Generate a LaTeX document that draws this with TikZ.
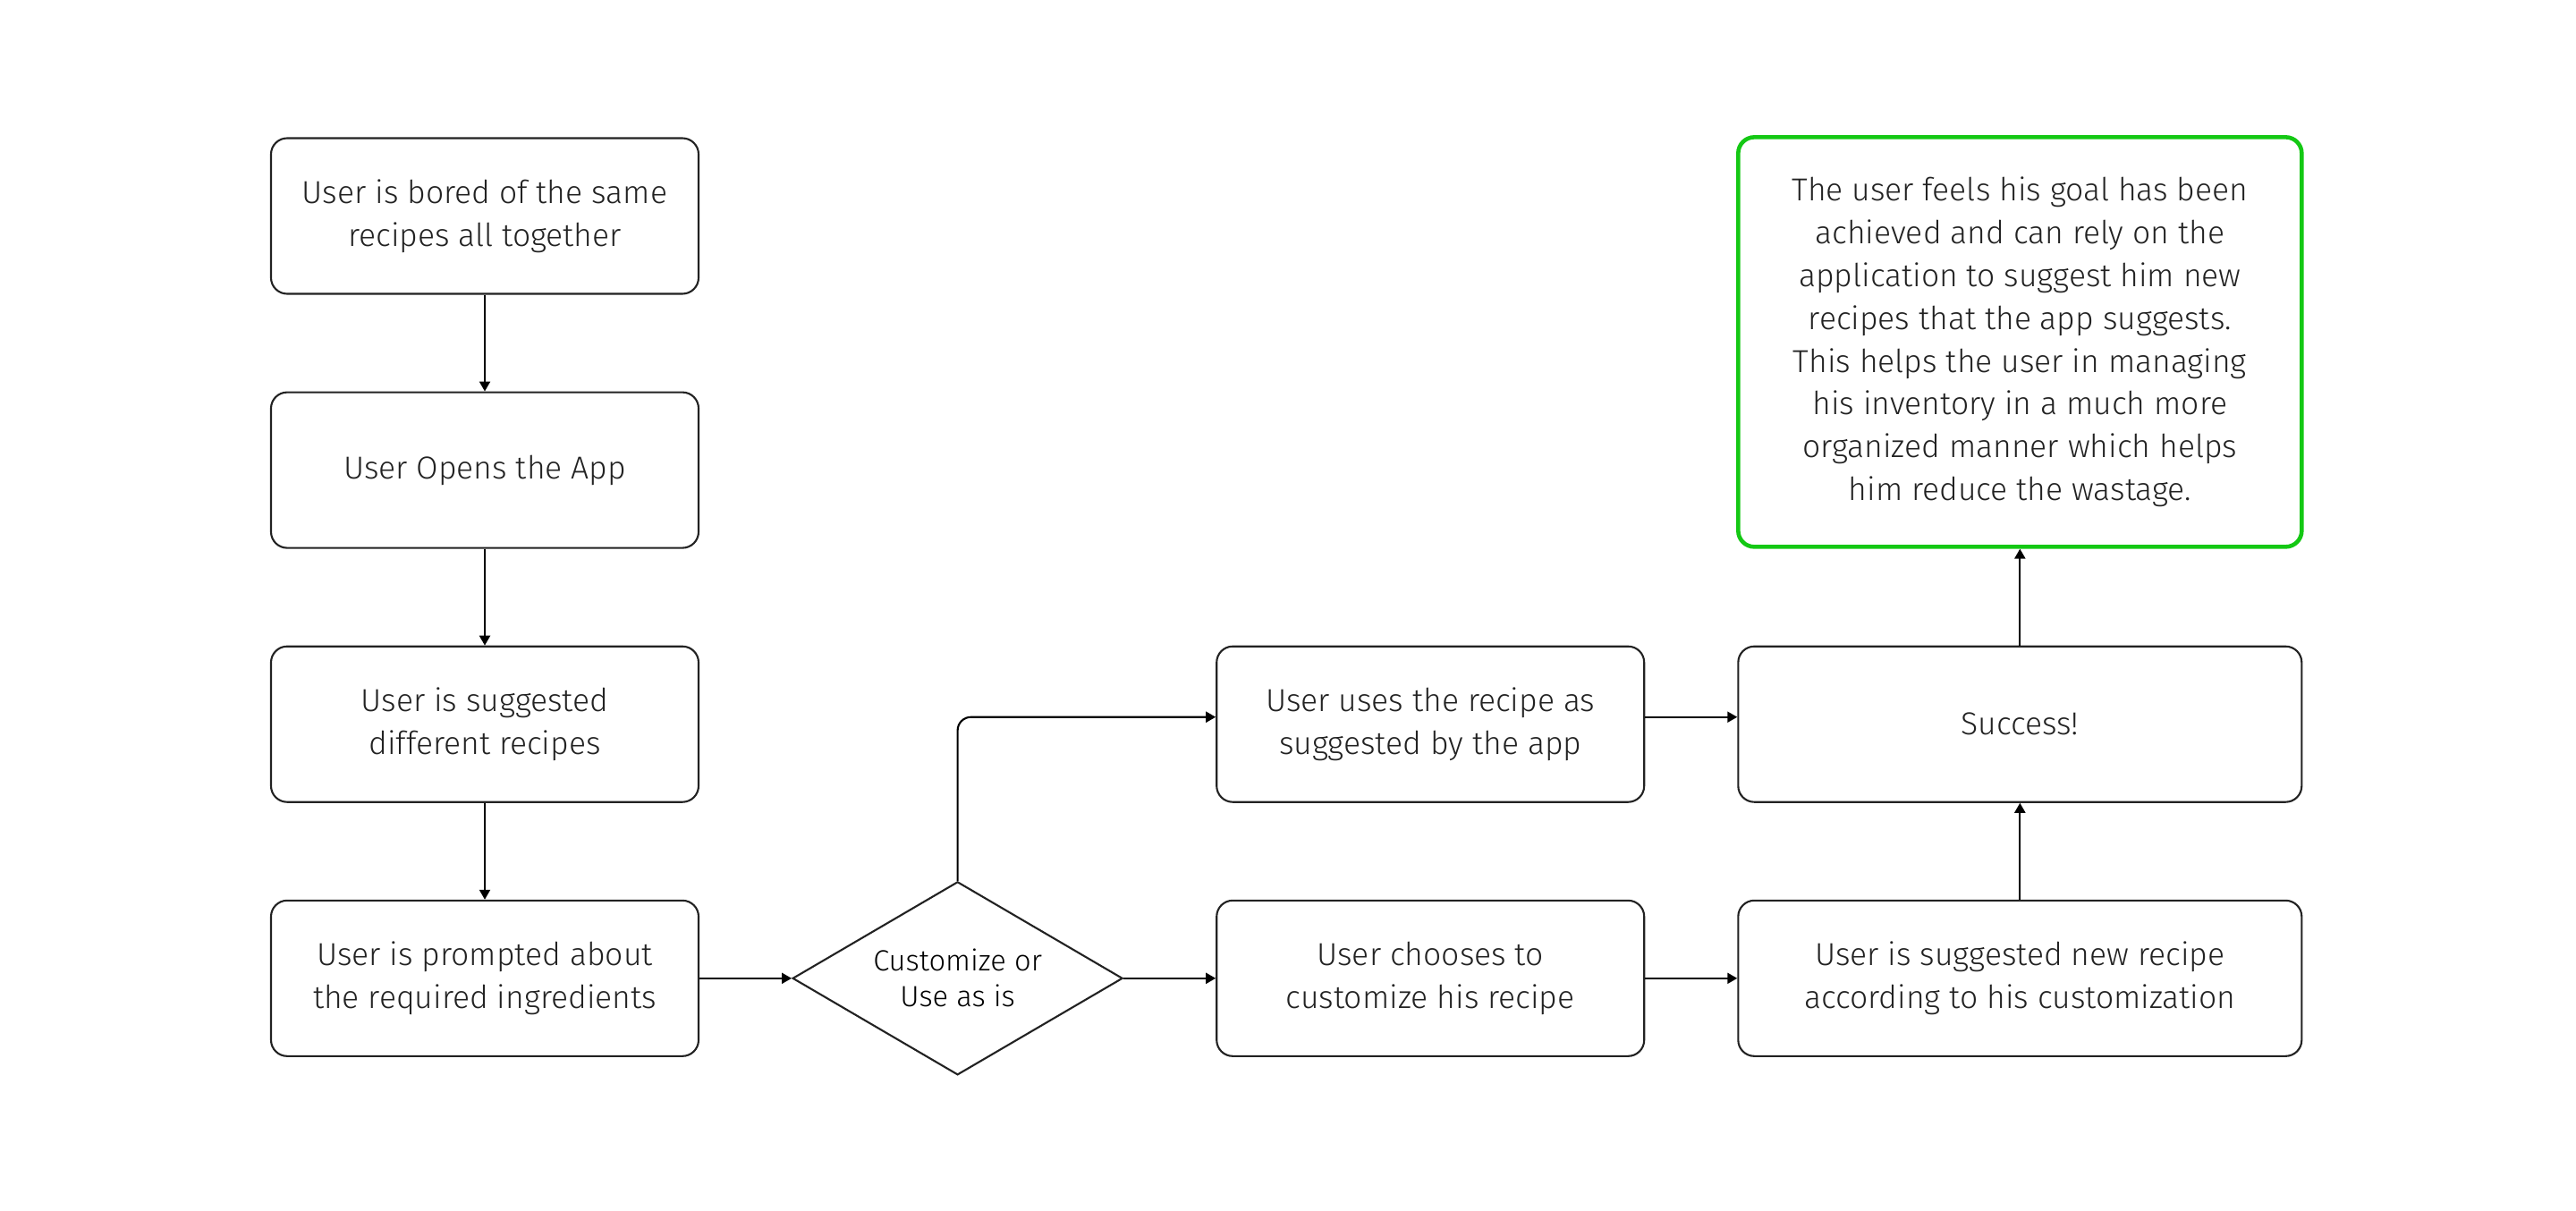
\documentclass[tikz,border=0pt]{standalone}
\usepackage{fontspec}
\setmainfont{Fira Sans Light}
\usetikzlibrary{arrows.meta,positioning,shapes.geometric}
\definecolor{FlowInk}{HTML}{222222}
\definecolor{FlowGreen}{HTML}{14C814}

\begin{document}
\begin{tikzpicture}[
      node distance=1.08cm and 1.03cm,
      box/.style={draw=FlowInk,rounded corners=.18cm,line width=.6pt,
        minimum width=4.78cm,minimum height=1.74cm,align=center,inner sep=0pt,
        text=FlowInk,font=\fontsize{10.1}{13.6}\selectfont},
      widebox/.style={box,minimum width=6.30cm},
      goalbox/.style={widebox,draw=FlowGreen,line width=1.3pt,minimum height=4.58cm},
      decision/.style={diamond,aspect=1.71,draw=FlowInk,line width=.6pt,minimum width=3.69cm,
        minimum height=2.16cm,inner sep=-5pt,align=center,text=black,
        font=\fontsize{9.3}{11.4}\selectfont},
      arrow/.style={-{Triangle[length=1.1mm,width=1.2mm]},line width=.6pt,black}
    ]
      \useasboundingbox (0,0) rectangle (28.8,-13.54);
      \node[box] (bored) at (5.42,-2.415) {User is bored of the same\\recipes all together};
      \node[box,below=of bored] (opens) {User Opens the App};
      \node[box,below=of opens] (suggested) {User is suggested\\different recipes};
      \node[box,below=of suggested] (prompted) {User is prompted about\\the required ingredients};
      \node[decision,right=of prompted] (choice) {Customize or\\Use as is};
      \node[box,right=of choice] (customize) {User chooses to\\customize his recipe};
      \node[box,above=of customize] (asis) {User uses the recipe as\\suggested by the app};
      \node[widebox,right=of customize] (newrecipe) {User is suggested new recipe\\according to his customization};
      \node[widebox,right=of asis] (success) {Success!};
      \node[goalbox,above=of success] (goal) {The user feels his goal has been\\achieved and can rely on the\\application to suggest him new\\recipes that the app suggests.\\This helps the user in managing\\his inventory in a much more\\organized manner which helps\\him reduce the wastage.};
      \draw[arrow] (bored)--(opens);
      \draw[arrow] (opens)--(suggested);
      \draw[arrow] (suggested)--(prompted);
      \draw[arrow] (prompted)--(choice);
      \draw[arrow] (choice)--(customize);
      \draw[arrow,rounded corners=.15cm] (choice.north) |- ([yshift=.8mm]asis.west);
      \draw[arrow] ([yshift=.8mm]asis.east)--([yshift=.8mm]success.west);
      \draw[arrow] (customize)--(newrecipe);
      \draw[arrow] (newrecipe)--(success);
      \draw[arrow] (success)--(goal);
    \end{tikzpicture}
\end{document}
